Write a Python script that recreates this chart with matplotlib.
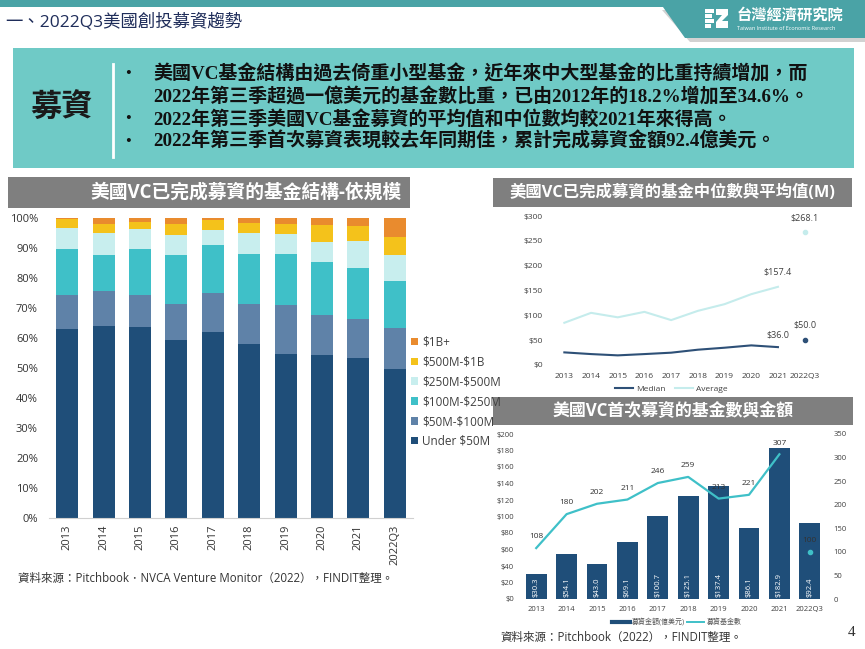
import matplotlib
matplotlib.use("Agg")
import matplotlib.pyplot as plt
from matplotlib.patches import Rectangle, Polygon
from matplotlib.lines import Line2D

plt.rcParams["font.family"] = ["Open Sans", "Noto Sans CJK TC", "DejaVu Sans"]
plt.rcParams["text.parse_math"] = False

# ---- data -------------------------------------------------------------
years = ["2013", "2014", "2015", "2016", "2017", "2018", "2019", "2020", "2021", "2022Q3"]

# fund structure by size (% of closed funds)
size_labels = ["Under $50M", "$50M-$100M", "$100M-$250M", "$250M-$500M", "$500M-$1B", "$1B+"]
under_50m = [63.1, 63.9, 63.7, 59.4, 62.0, 58.0, 54.7, 54.2, 53.2, 49.7]
m50_100 = [11.3, 11.7, 10.5, 11.9, 13.0, 13.3, 16.4, 13.4, 13.0, 13.6]
m100_250 = [15.2, 12.2, 15.4, 16.5, 15.9, 16.7, 16.9, 17.7, 17.1, 15.6]
m250_500 = [7.1, 7.2, 6.8, 6.4, 5.1, 7.1, 6.7, 6.7, 8.9, 8.9]
m500_1b = [3.0, 3.0, 2.3, 3.8, 3.2, 3.1, 3.3, 5.6, 5.2, 6.0]
b1_plus = [0.3, 2.0, 1.3, 2.0, 0.8, 1.8, 2.0, 2.4, 2.6, 6.2]
size_colors = ["#1f4e79", "#5f82a8", "#3fc0c8", "#c8eeee", "#f4c21b", "#e98b2e"]

# median / average fund size ($M), 2013-2021 line + 2022Q3 point
median_size = [25.4, 22.0, 19.4, 22.0, 24.8, 30.8, 34.8, 39.5, 36.0]
average_size = [85.0, 105.0, 96.0, 107.0, 90.4, 109.0, 122.5, 142.6, 157.4]
median_q3 = 50.0
average_q3 = 268.1

# first-time funds
first_amount = [30.3, 54.1, 43.0, 69.1, 100.7, 125.1, 137.4, 86.1, 182.9, 92.4]
first_count = [108, 180, 202, 211, 246, 259, 213, 221, 307]
first_count_q3 = 100

bullets = [
    ("•", "美國VC基金結構由過去倚重小型基金，近年來中大型基金的比重持續增加，而"),
    ("", "2022年第三季超過一億美元的基金數比重，已由2012年的18.2%增加至34.6%。"),
    ("•", "2022年第三季美國VC基金募資的平均值和中位數均較2021年來得高。"),
    ("•", "2022年第三季首次募資表現較去年同期佳，累計完成募資金額92.4億美元。"),
]

W, H = 865, 649
fig = plt.figure(figsize=(W / 100, H / 100), dpi=100)


def px_axes(x0, y0, x1, y1):
    return fig.add_axes([x0 / W, 1 - y1 / H, (x1 - x0) / W, (y1 - y0) / H])


# background layer in pixel coordinates
bg = fig.add_axes([0, 0, 1, 1])
bg.set_xlim(0, W)
bg.set_ylim(H, 0)
bg.axis("off")

# header
bg.add_patch(Rectangle((0, 0), W, 7, color="#4aa3a6", lw=0))
bg.add_patch(Polygon([(662, 10), (868, 10), (868, 42), (690, 42)], color="#d2d2d2", lw=0))
bg.add_patch(Polygon([(658, 0), (865, 0), (865, 38), (685, 38)], color="#4aa3a6", lw=0))
bg.text(5, 22, "一、2022Q3美國創投募資趨勢", fontsize=12.5, color="#1f2d5a", va="center")
# logo
for i, w in enumerate([9, 7, 9, 6]):
    bg.add_patch(Rectangle((705, 9 + i * 5), w, 3.5, color="white", lw=0))
bg.add_patch(Polygon([(716, 9), (728, 9), (728, 15), (722, 21), (728, 21), (728, 28),
                      (716, 28), (716, 22), (722, 15), (716, 15)], color="white", lw=0))
bg.text(737, 15, "台灣經濟研究院", fontsize=11, color="white", va="center", fontweight="bold")
bg.text(737, 28, "Taiwan Institute of Economic Research", fontsize=4, color="white", va="center")

# summary box
bg.add_patch(Rectangle((13, 48), 841, 120, color="#6fcac6", lw=0))
bg.text(62, 108, "募資", fontsize=22.5, fontweight="bold", color="#1a1a1a", ha="center", va="center",
        family=["Noto Sans CJK TC"])
bg.plot([113, 113], [64, 157], color="white", lw=2)
text_font = ["Liberation Serif", "Noto Sans CJK TC"]
for i, (mark, line) in enumerate(bullets):
    y = 74 + i * 22.5
    if mark:
        bg.text(128, y, mark, fontsize=12, color="#111111", ha="center", va="center", family=text_font)
    bg.text(153, y, line, fontsize=13.7, color="#111111", va="center", fontweight="bold", family=text_font)


def title_bar(x0, y0, x1, y1, text, size, tx=None):
    bg.add_patch(Rectangle((x0, y0), x1 - x0, y1 - y0, color="#7f7f7f", lw=0))
    cx = (x0 + x1) / 2 if tx is None else tx
    bg.text(cx, (y0 + y1) / 2, text, fontsize=size, color="white", fontweight="bold",
            ha="center", va="center")


title_bar(8, 177, 410, 208, "美國VC已完成募資的基金結構-依規模", 13.5, tx=246)
title_bar(493, 178, 852, 207, "美國VC已完成募資的基金中位數與平均值(M)", 11.8)
title_bar(493, 397, 853, 425, "美國VC首次募資的基金數與金額", 12.2, tx=673)

# ---- left: stacked bars ------------------------------------------------
ax1 = px_axes(49, 218, 413, 518)
ax1.set_facecolor("none")
x = list(range(len(years)))
series = [under_50m, m50_100, m100_250, m250_500, m500_1b, b1_plus]
bottom = [0.0] * len(years)
handles = []
for vals, lab, col in zip(series, size_labels, size_colors):
    bars = ax1.bar(x, vals, bottom=bottom, width=0.6, color=col, label=lab, lw=0)
    handles.append(bars)
    bottom = [b + v for b, v in zip(bottom, vals)]
ax1.set_xlim(-0.5, 9.5)
ax1.set_ylim(0, 100)
ax1.set_yticks(range(0, 101, 10))
ax1.set_yticklabels([f"{v}%" for v in range(0, 101, 10)])
ax1.set_xticks(x)
ax1.set_xticklabels(years, rotation=90)
for s in ["top", "right", "left"]:
    ax1.spines[s].set_visible(False)
ax1.spines["bottom"].set_color("#d0d0d0")
ax1.tick_params(length=0, labelsize=8, colors="#333333", pad=5)
ax1.tick_params(axis="y", pad=8)
fig.legend(handles[::-1], size_labels[::-1], loc="upper left",
           bbox_to_anchor=(400 / W, 1 - 325 / H), frameon=False, fontsize=8.5,
           handlelength=0.6, handleheight=0.6, handletextpad=0.4, labelspacing=0.58,
           labelcolor="#404040")
bg.text(18, 578, "資料來源：Pitchbook．NVCA Venture Monitor（2022），FINDIT整理。",
        fontsize=8.3, color="#333333", va="center")

# ---- right top: median / average ---------------------------------------
ax2 = px_axes(551, 216, 818, 365)
ax2.set_facecolor("none")
xl = list(range(len(median_size)))
ax2.plot(xl, median_size, color="#2e5077", lw=1.5, label="Median")
ax2.plot(xl, average_size, color="#c5ecec", lw=1.5, label="Average")
ax2.plot([9], [median_q3], "o", color="#2e5077", ms=3)
ax2.plot([9], [average_q3], "o", color="#c5ecec", ms=3)
lab_style = dict(fontsize=6.5, color="#404040", ha="center")
ax2.annotate(f"${average_size[-1]:.1f}", (8, average_size[-1]), xytext=(0, 9),
             textcoords="offset points", **lab_style)
ax2.annotate(f"${median_size[-1]:.1f}", (8, median_size[-1]), xytext=(0, 7),
             textcoords="offset points", **lab_style)
ax2.annotate(f"${median_q3:.1f}", (9, median_q3), xytext=(0, 9),
             textcoords="offset points", **lab_style)
ax2.annotate(f"${average_q3:.1f}", (9, average_q3), xytext=(0, 8),
             textcoords="offset points", **lab_style)
ax2.set_xlim(-0.5, 9.5)
ax2.set_ylim(0, 300)
ax2.set_yticks(range(0, 301, 50))
ax2.set_yticklabels([f"${v}" for v in range(0, 301, 50)])
ax2.set_xticks(range(len(years)))
ax2.set_xticklabels(years)
for s in ax2.spines.values():
    s.set_visible(False)
ax2.tick_params(length=0, labelsize=6, colors="#404040", pad=6)
ax2.legend(loc="upper center", bbox_to_anchor=(0.45, -0.085), ncol=2, frameon=False,
           fontsize=6, handlelength=2.2, columnspacing=1.2, handletextpad=0.3,
           labelcolor="#404040")

# ---- right bottom: first-time funds ------------------------------------
ax3 = px_axes(521, 434, 825, 599)
ax3.set_facecolor("none")
bars = ax3.bar(range(len(years)), first_amount, width=0.69, color="#1f4e79", lw=0,
               label="募資金額(億美元)")
for i, v in enumerate(first_amount):
    ax3.text(i, 3, f"${v:.1f}", rotation=90, ha="center", va="bottom", fontsize=5.5, color="white")
ax3.set_xlim(-0.5, 9.5)
ax3.set_ylim(0, 200)
ax3.set_yticks(range(0, 201, 20))
ax3.set_yticklabels([f"${v}" for v in range(0, 201, 20)])
ax3.set_xticks(range(len(years)))
ax3.set_xticklabels(years)
for s in ax3.spines.values():
    s.set_visible(False)
ax3.tick_params(length=0, labelsize=5.5, colors="#404040", pad=5)

ax4 = ax3.twinx()
ax4.plot(range(len(first_count)), first_count, color="#3fc0c8", lw=1.6, label="募資基金數")
ax4.plot([9], [first_count_q3], "o", color="#3fc0c8", ms=3)
for i, v in enumerate(first_count + [first_count_q3]):
    ax4.annotate(str(v), (i, v), xytext=(0, 7), textcoords="offset points",
                 ha="center", fontsize=6, color="#333333")
ax4.set_ylim(0, 350)
ax4.set_yticks(range(0, 351, 50))
for s in ax4.spines.values():
    s.set_visible(False)
ax4.tick_params(length=0, labelsize=5.5, colors="#404040", pad=6)

leg_handles = [Line2D([], [], color="#1f4e79", lw=3), Line2D([], [], color="#3fc0c8", lw=1.4)]
fig.legend(leg_handles, ["募資金額(億美元)", "募資基金數"], loc="center",
           bbox_to_anchor=(677 / W, 1 - 622 / H), ncol=2, frameon=False, fontsize=5,
           handlelength=2.5, columnspacing=0.3, handletextpad=0.3, labelcolor="#555555")

bg.text(500, 637, "資料來源：Pitchbook（2022），FINDIT整理。", fontsize=8.3, color="#333333", va="center")
bg.text(852, 632, "4", fontsize=11, color="#333333", ha="center", va="center", family=["Liberation Serif"])

fig.savefig("out.png", dpi=100)
